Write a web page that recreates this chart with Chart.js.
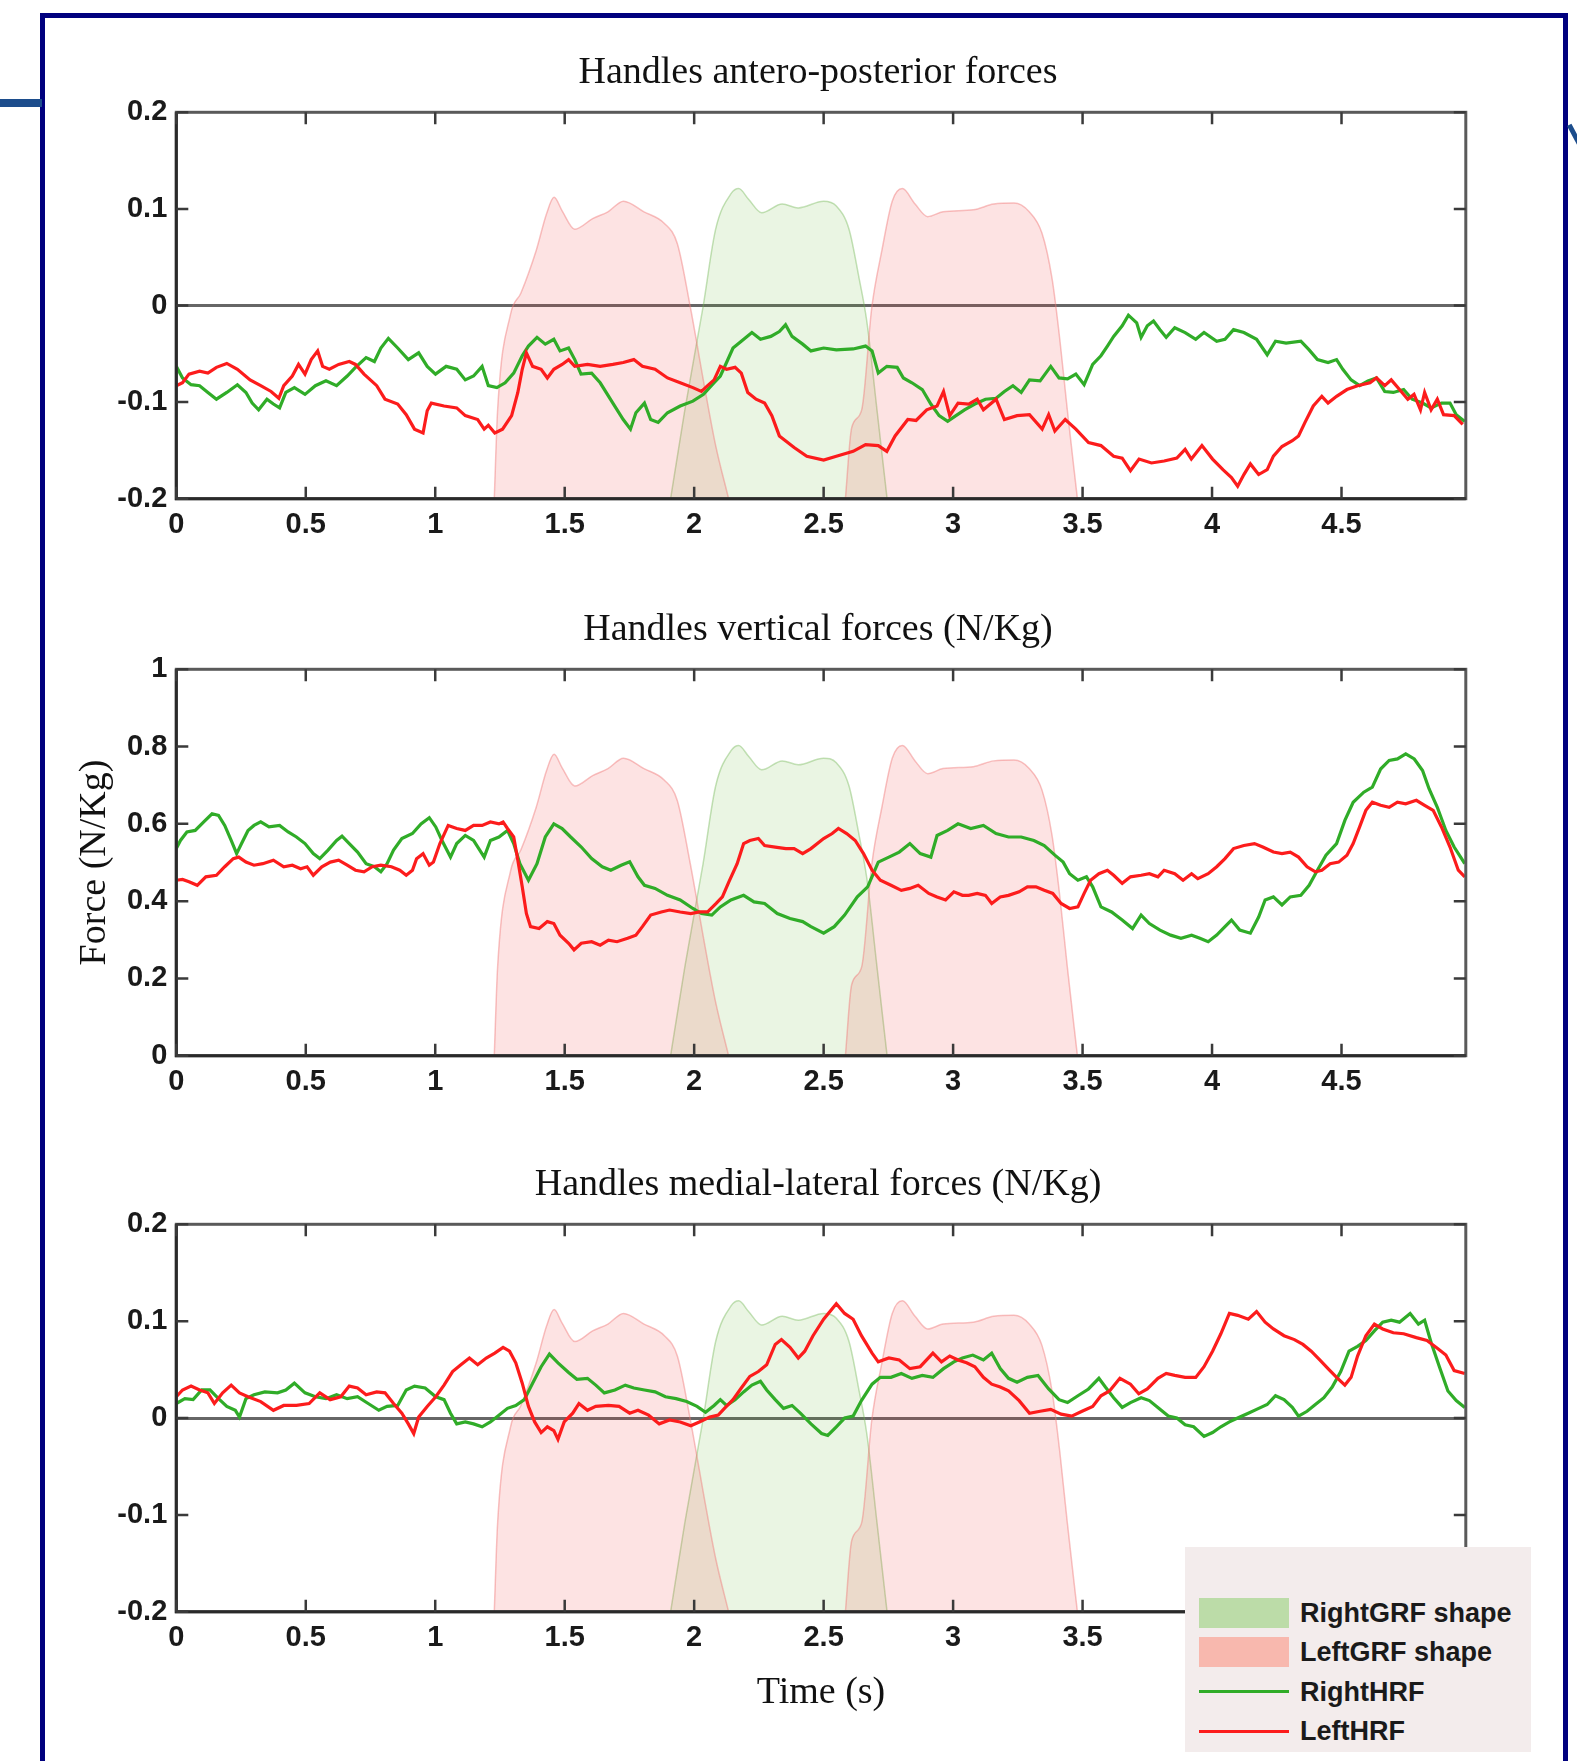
<!DOCTYPE html>
<html>
<head>
<meta charset="utf-8">
<title>Handles forces</title>
<script src="https://cdn.jsdelivr.net/npm/chart.js@4.4.1/dist/chart.umd.min.js"></script>
<style>
    html, body { margin: 0; padding: 0; background: #fff; width: 1577px; height: 1761px; overflow: hidden; position: relative; }
    canvas { position: absolute; }
    .frame { position: absolute; left: 40px; top: 13px; width: 1528px; height: 1800px; box-sizing: border-box; border: 5px solid #00007e; border-bottom: none; }
    .stub { position: absolute; left: 0; top: 99px; width: 42px; height: 8px; background: #1c4d8c; }
    .slash { position: absolute; left: 1567px; top: 126px; width: 5px; height: 34px; background: #1c4d8c; transform: rotate(-28deg); transform-origin: top left; }
    #legend { position: absolute; left: 1185px; top: 1547px; width: 346px; height: 205px; background: #f3ecec; font-family: "Liberation Sans", Arial, Helvetica, sans-serif; font-size: 27px; font-weight: bold; color: #1a1a1a; }
    #legend .item { position: absolute; left: 0; width: 346px; height: 36px; line-height: 36px; }
    #legend .sw { position: absolute; left: 14px; width: 90px; }
    #legend .txt { position: absolute; left: 115px; top: 0; white-space: nowrap; }
</style>
</head>
<body>
<div class="frame"></div>
<div class="stub"></div>
<div class="slash"></div>
<canvas id="apChart" width="1524" height="520" style="left:56px; top:30px;"></canvas>
<canvas id="vtChart" width="1524" height="520" style="left:56px; top:587px;"></canvas>
<canvas id="mlChart" width="1524" height="619" style="left:56px; top:1142px;"></canvas>
<div id="legend"></div>

<script>
// time axis
var xMax = 4.98;
var xTicks = [0, 0.5, 1, 1.5, 2, 2.5, 3, 3.5, 4, 4.5];
var apYTicks = [-0.2, -0.1, 0, 0.1, 0.2];
var vtYTicks = [0, 0.2, 0.4, 0.6, 0.8, 1];
var mlYTicks = [-0.2, -0.1, 0, 0.1, 0.2];

var seriesNames = ['RightGRF shape', 'LeftGRF shape', 'RightHRF', 'LeftHRF'];

// GRF shapes, [time, value] (same shape in the antero-posterior and medial-lateral plots)
var grfRight = [[1.909,-0.2],[1.964,-0.108],[2.034,-0.002],[2.083,0.079],[2.143,0.116],[2.172,0.121],[2.21,0.11],[2.261,0.096],[2.34,0.105],[2.402,0.101],[2.5,0.108],[2.549,0.103],[2.598,0.079],[2.637,0.028],[2.667,-0.017],[2.706,-0.108],[2.745,-0.2]];
var grfLeftA = [[1.228,-0.2],[1.241,-0.108],[1.291,-0.009],[1.331,0.013],[1.39,0.057],[1.43,0.095],[1.459,0.112],[1.49,0.098],[1.539,0.079],[1.608,0.09],[1.667,0.097],[1.727,0.108],[1.806,0.097],[1.885,0.085],[1.935,0.064],[1.984,0],[2.044,-0.09],[2.083,-0.145],[2.133,-0.2]];
var grfLeftB = [[2.584,-0.2],[2.608,-0.127],[2.647,-0.108],[2.686,-0.002],[2.725,0.057],[2.765,0.108],[2.804,0.121],[2.853,0.105],[2.902,0.092],[2.961,0.097],[3.078,0.099],[3.157,0.105],[3.235,0.106],[3.294,0.097],[3.343,0.075],[3.382,0.028],[3.412,-0.035],[3.441,-0.108],[3.48,-0.2]];

// GRF shapes as drawn in the vertical plot (0..1 axis)
var vtGrfRight = [[1.909,0],[1.964,0.23],[2.034,0.495],[2.083,0.698],[2.143,0.79],[2.172,0.803],[2.21,0.775],[2.261,0.74],[2.34,0.763],[2.402,0.753],[2.5,0.77],[2.549,0.758],[2.598,0.698],[2.637,0.57],[2.667,0.458],[2.706,0.23],[2.745,0]];
var vtGrfLeftA = [[1.228,0],[1.241,0.23],[1.291,0.478],[1.331,0.533],[1.39,0.643],[1.43,0.738],[1.459,0.78],[1.49,0.745],[1.539,0.698],[1.608,0.725],[1.667,0.743],[1.727,0.77],[1.806,0.743],[1.885,0.713],[1.935,0.66],[1.984,0.5],[2.044,0.275],[2.083,0.138],[2.133,0]];
var vtGrfLeftB = [[2.584,0],[2.608,0.183],[2.647,0.23],[2.686,0.495],[2.725,0.643],[2.765,0.77],[2.804,0.803],[2.853,0.763],[2.902,0.73],[2.961,0.743],[3.078,0.748],[3.157,0.763],[3.235,0.765],[3.294,0.743],[3.343,0.688],[3.382,0.57],[3.412,0.413],[3.441,0.23],[3.48,0]];

// handle reaction forces, antero-posterior
var apLeftHrf = [[0,-0.083],[0.024,-0.08],[0.049,-0.071],[0.09,-0.068],[0.122,-0.07],[0.155,-0.064],[0.195,-0.06],[0.236,-0.066],[0.285,-0.077],[0.326,-0.083],[0.366,-0.089],[0.396,-0.096],[0.415,-0.083],[0.448,-0.073],[0.472,-0.061],[0.497,-0.071],[0.521,-0.056],[0.546,-0.047],[0.565,-0.063],[0.591,-0.066],[0.627,-0.061],[0.668,-0.058],[0.692,-0.061],[0.725,-0.071],[0.774,-0.083],[0.806,-0.097],[0.855,-0.102],[0.888,-0.113],[0.92,-0.128],[0.953,-0.132],[0.969,-0.109],[0.985,-0.101],[1.034,-0.104],[1.083,-0.106],[1.116,-0.114],[1.164,-0.118],[1.189,-0.128],[1.205,-0.124],[1.23,-0.132],[1.26,-0.128],[1.295,-0.114],[1.319,-0.09],[1.336,-0.066],[1.352,-0.049],[1.376,-0.063],[1.409,-0.066],[1.433,-0.075],[1.458,-0.066],[1.49,-0.061],[1.515,-0.056],[1.539,-0.063],[1.588,-0.061],[1.637,-0.063],[1.686,-0.061],[1.726,-0.059],[1.767,-0.056],[1.8,-0.063],[1.849,-0.066],[1.897,-0.075],[1.946,-0.08],[1.995,-0.085],[2.028,-0.089],[2.052,-0.083],[2.077,-0.077],[2.101,-0.063],[2.125,-0.066],[2.158,-0.064],[2.182,-0.07],[2.207,-0.09],[2.239,-0.097],[2.272,-0.101],[2.3,-0.114],[2.329,-0.135],[2.386,-0.147],[2.435,-0.156],[2.5,-0.16],[2.549,-0.156],[2.614,-0.151],[2.662,-0.144],[2.711,-0.145],[2.744,-0.151],[2.776,-0.135],[2.825,-0.118],[2.857,-0.119],[2.898,-0.108],[2.938,-0.104],[2.963,-0.089],[2.987,-0.114],[3.019,-0.101],[3.06,-0.102],[3.093,-0.097],[3.117,-0.108],[3.166,-0.097],[3.198,-0.118],[3.247,-0.114],[3.295,-0.113],[3.344,-0.128],[3.369,-0.113],[3.393,-0.13],[3.433,-0.118],[3.474,-0.128],[3.523,-0.142],[3.571,-0.145],[3.62,-0.156],[3.653,-0.158],[3.685,-0.171],[3.718,-0.159],[3.766,-0.163],[3.815,-0.161],[3.864,-0.158],[3.896,-0.149],[3.92,-0.159],[3.961,-0.145],[4.002,-0.159],[4.042,-0.17],[4.075,-0.178],[4.099,-0.187],[4.123,-0.175],[4.148,-0.164],[4.18,-0.175],[4.213,-0.17],[4.237,-0.156],[4.27,-0.146],[4.31,-0.14],[4.334,-0.135],[4.359,-0.121],[4.391,-0.104],[4.424,-0.094],[4.448,-0.101],[4.481,-0.094],[4.521,-0.087],[4.562,-0.083],[4.61,-0.08],[4.635,-0.075],[4.667,-0.083],[4.692,-0.077],[4.724,-0.087],[4.756,-0.097],[4.78,-0.092],[4.805,-0.108],[4.821,-0.09],[4.846,-0.108],[4.87,-0.097],[4.894,-0.113],[4.935,-0.114],[4.968,-0.123]];
var apRightHrf = [[0,-0.063],[0.024,-0.075],[0.057,-0.082],[0.09,-0.083],[0.122,-0.09],[0.155,-0.097],[0.195,-0.09],[0.236,-0.082],[0.269,-0.09],[0.293,-0.101],[0.318,-0.108],[0.35,-0.097],[0.375,-0.102],[0.399,-0.106],[0.423,-0.09],[0.456,-0.085],[0.497,-0.092],[0.537,-0.083],[0.578,-0.078],[0.619,-0.083],[0.66,-0.073],[0.692,-0.064],[0.733,-0.054],[0.765,-0.058],[0.79,-0.044],[0.819,-0.034],[0.855,-0.044],[0.896,-0.056],[0.936,-0.049],[0.969,-0.063],[1.001,-0.071],[1.042,-0.063],[1.083,-0.066],[1.116,-0.077],[1.148,-0.073],[1.181,-0.063],[1.205,-0.083],[1.238,-0.085],[1.27,-0.08],[1.303,-0.07],[1.336,-0.052],[1.36,-0.042],[1.393,-0.033],[1.425,-0.04],[1.458,-0.035],[1.482,-0.047],[1.515,-0.044],[1.539,-0.056],[1.563,-0.071],[1.604,-0.07],[1.637,-0.08],[1.686,-0.101],[1.726,-0.118],[1.754,-0.128],[1.775,-0.111],[1.808,-0.101],[1.832,-0.118],[1.861,-0.121],[1.897,-0.111],[1.946,-0.104],[1.995,-0.099],[2.036,-0.092],[2.077,-0.08],[2.101,-0.073],[2.125,-0.059],[2.15,-0.044],[2.182,-0.037],[2.223,-0.028],[2.256,-0.035],[2.296,-0.032],[2.329,-0.027],[2.353,-0.02],[2.378,-0.032],[2.419,-0.04],[2.451,-0.047],[2.5,-0.044],[2.549,-0.046],[2.614,-0.045],[2.662,-0.042],[2.687,-0.047],[2.711,-0.07],[2.744,-0.063],[2.784,-0.064],[2.808,-0.075],[2.841,-0.08],[2.881,-0.087],[2.914,-0.102],[2.946,-0.114],[2.979,-0.12],[3.011,-0.114],[3.044,-0.108],[3.084,-0.102],[3.125,-0.097],[3.166,-0.096],[3.198,-0.089],[3.231,-0.083],[3.263,-0.09],[3.295,-0.077],[3.336,-0.078],[3.377,-0.063],[3.409,-0.075],[3.442,-0.076],[3.474,-0.071],[3.506,-0.082],[3.539,-0.061],[3.571,-0.052],[3.596,-0.042],[3.62,-0.032],[3.653,-0.021],[3.677,-0.01],[3.709,-0.018],[3.726,-0.033],[3.75,-0.021],[3.774,-0.016],[3.799,-0.025],[3.823,-0.033],[3.856,-0.023],[3.896,-0.028],[3.937,-0.035],[3.969,-0.028],[4.018,-0.037],[4.05,-0.035],[4.083,-0.025],[4.123,-0.028],[4.172,-0.035],[4.213,-0.051],[4.245,-0.037],[4.286,-0.039],[4.343,-0.037],[4.375,-0.046],[4.407,-0.056],[4.448,-0.059],[4.481,-0.056],[4.505,-0.066],[4.537,-0.077],[4.57,-0.083],[4.602,-0.078],[4.635,-0.075],[4.667,-0.089],[4.7,-0.09],[4.74,-0.087],[4.773,-0.097],[4.813,-0.101],[4.846,-0.106],[4.886,-0.101],[4.919,-0.101],[4.943,-0.113],[4.976,-0.12]];

// vertical
var vtLeftHrf = [[0,0.454],[0.024,0.456],[0.049,0.45],[0.081,0.441],[0.114,0.463],[0.155,0.467],[0.187,0.489],[0.22,0.51],[0.241,0.514],[0.269,0.501],[0.3,0.493],[0.334,0.497],[0.375,0.506],[0.415,0.489],[0.448,0.493],[0.48,0.484],[0.505,0.489],[0.529,0.467],[0.562,0.489],[0.595,0.501],[0.627,0.506],[0.66,0.493],[0.692,0.48],[0.725,0.476],[0.757,0.489],[0.79,0.493],[0.831,0.489],[0.863,0.48],[0.888,0.467],[0.912,0.48],[0.928,0.51],[0.953,0.523],[0.977,0.493],[0.993,0.501],[1.018,0.549],[1.05,0.596],[1.083,0.588],[1.116,0.583],[1.148,0.596],[1.181,0.596],[1.213,0.605],[1.246,0.6],[1.262,0.605],[1.279,0.588],[1.303,0.566],[1.319,0.506],[1.336,0.437],[1.352,0.368],[1.368,0.334],[1.401,0.329],[1.433,0.347],[1.458,0.342],[1.482,0.312],[1.515,0.291],[1.536,0.274],[1.564,0.291],[1.604,0.295],[1.637,0.286],[1.669,0.299],[1.702,0.295],[1.743,0.304],[1.775,0.312],[1.8,0.334],[1.832,0.364],[1.873,0.372],[1.905,0.377],[1.946,0.372],[1.987,0.368],[2.02,0.372],[2.052,0.372],[2.085,0.394],[2.109,0.411],[2.134,0.45],[2.166,0.497],[2.191,0.549],[2.215,0.557],[2.248,0.562],[2.272,0.544],[2.313,0.54],[2.354,0.536],[2.386,0.536],[2.419,0.523],[2.451,0.536],[2.5,0.562],[2.533,0.575],[2.557,0.588],[2.589,0.575],[2.622,0.557],[2.654,0.523],[2.687,0.48],[2.719,0.454],[2.76,0.441],[2.8,0.428],[2.833,0.433],[2.865,0.441],[2.906,0.42],[2.938,0.411],[2.971,0.403],[3.003,0.424],[3.036,0.415],[3.06,0.415],[3.093,0.42],[3.125,0.415],[3.149,0.394],[3.182,0.411],[3.214,0.415],[3.255,0.424],[3.287,0.437],[3.32,0.437],[3.352,0.428],[3.385,0.42],[3.417,0.394],[3.45,0.381],[3.482,0.385],[3.506,0.42],[3.531,0.454],[3.563,0.471],[3.596,0.48],[3.62,0.467],[3.653,0.446],[3.685,0.463],[3.726,0.467],[3.758,0.471],[3.791,0.463],[3.815,0.48],[3.856,0.471],[3.888,0.454],[3.921,0.471],[3.945,0.458],[3.985,0.471],[4.018,0.489],[4.05,0.51],[4.083,0.536],[4.123,0.544],[4.164,0.549],[4.196,0.54],[4.237,0.527],[4.27,0.523],[4.302,0.527],[4.334,0.514],[4.367,0.489],[4.399,0.476],[4.424,0.48],[4.456,0.497],[4.489,0.501],[4.521,0.519],[4.545,0.549],[4.57,0.592],[4.594,0.635],[4.619,0.656],[4.651,0.648],[4.684,0.643],[4.716,0.656],[4.748,0.652],[4.789,0.661],[4.821,0.648],[4.854,0.635],[4.886,0.592],[4.919,0.54],[4.951,0.48],[4.976,0.463]];
var vtRightHrf = [[0,0.536],[0.016,0.557],[0.041,0.579],[0.073,0.583],[0.106,0.605],[0.138,0.626],[0.163,0.622],[0.187,0.596],[0.212,0.557],[0.233,0.523],[0.252,0.549],[0.277,0.583],[0.3,0.596],[0.326,0.605],[0.358,0.592],[0.399,0.596],[0.432,0.579],[0.464,0.566],[0.497,0.549],[0.529,0.523],[0.554,0.51],[0.586,0.532],[0.619,0.557],[0.64,0.568],[0.668,0.549],[0.7,0.527],[0.733,0.497],[0.765,0.489],[0.79,0.476],[0.814,0.497],[0.839,0.532],[0.871,0.562],[0.912,0.575],[0.945,0.6],[0.977,0.616],[1.002,0.592],[1.026,0.557],[1.059,0.514],[1.083,0.549],[1.116,0.57],[1.148,0.557],[1.189,0.514],[1.213,0.557],[1.246,0.566],[1.279,0.583],[1.303,0.549],[1.327,0.497],[1.36,0.454],[1.393,0.497],[1.425,0.566],[1.458,0.6],[1.49,0.588],[1.523,0.566],[1.564,0.54],[1.604,0.51],[1.645,0.489],[1.678,0.48],[1.718,0.493],[1.751,0.502],[1.783,0.463],[1.808,0.441],[1.849,0.433],[1.897,0.415],[1.946,0.403],[1.995,0.381],[2.028,0.368],[2.068,0.364],[2.101,0.385],[2.142,0.403],[2.191,0.415],[2.231,0.398],[2.272,0.394],[2.321,0.368],[2.37,0.355],[2.419,0.347],[2.451,0.334],[2.5,0.317],[2.541,0.334],[2.581,0.364],[2.63,0.411],[2.67,0.437],[2.711,0.501],[2.752,0.514],[2.792,0.527],[2.833,0.549],[2.873,0.523],[2.914,0.514],[2.938,0.57],[2.979,0.583],[3.019,0.6],[3.068,0.588],[3.117,0.596],[3.166,0.575],[3.214,0.566],[3.263,0.566],[3.312,0.557],[3.352,0.544],[3.393,0.519],[3.425,0.501],[3.45,0.471],[3.482,0.454],[3.515,0.463],[3.539,0.437],[3.571,0.385],[3.612,0.372],[3.653,0.351],[3.693,0.329],[3.726,0.364],[3.758,0.342],[3.799,0.325],[3.84,0.312],[3.88,0.304],[3.921,0.312],[3.953,0.304],[3.985,0.295],[4.018,0.312],[4.05,0.334],[4.075,0.351],[4.107,0.325],[4.148,0.317],[4.18,0.359],[4.205,0.403],[4.237,0.411],[4.27,0.39],[4.302,0.411],[4.343,0.415],[4.375,0.441],[4.407,0.48],[4.44,0.519],[4.481,0.549],[4.513,0.609],[4.545,0.656],[4.586,0.682],[4.619,0.695],[4.651,0.742],[4.684,0.764],[4.716,0.768],[4.748,0.781],[4.781,0.768],[4.813,0.738],[4.838,0.691],[4.87,0.643],[4.903,0.583],[4.935,0.54],[4.976,0.497]];

// medial-lateral
var mlLeftHrf = [[0,0.022],[0.024,0.029],[0.057,0.033],[0.09,0.029],[0.122,0.026],[0.147,0.015],[0.179,0.026],[0.212,0.034],[0.244,0.026],[0.277,0.022],[0.326,0.017],[0.375,0.008],[0.415,0.013],[0.464,0.013],[0.513,0.015],[0.554,0.026],[0.594,0.019],[0.635,0.022],[0.668,0.033],[0.7,0.031],[0.733,0.024],[0.774,0.027],[0.806,0.026],[0.839,0.015],[0.871,0.005],[0.896,-0.006],[0.917,-0.016],[0.936,0.001],[0.969,0.012],[1.002,0.022],[1.034,0.034],[1.067,0.048],[1.099,0.055],[1.132,0.062],[1.164,0.055],[1.197,0.062],[1.23,0.067],[1.262,0.073],[1.287,0.069],[1.311,0.057],[1.336,0.036],[1.36,0.012],[1.384,-0.004],[1.409,-0.015],[1.433,-0.009],[1.458,-0.013],[1.474,-0.022],[1.498,-0.004],[1.531,0.005],[1.555,0.015],[1.588,0.008],[1.62,0.012],[1.669,0.013],[1.71,0.012],[1.751,0.005],[1.783,0.008],[1.824,0.003],[1.865,-0.006],[1.905,-0.002],[1.946,-0.004],[1.987,-0.008],[2.02,-0.004],[2.06,0.001],[2.093,0.003],[2.117,0.01],[2.15,0.019],[2.182,0.031],[2.215,0.043],[2.248,0.048],[2.28,0.055],[2.313,0.076],[2.337,0.081],[2.37,0.073],[2.402,0.062],[2.427,0.069],[2.459,0.085],[2.5,0.102],[2.549,0.118],[2.581,0.108],[2.614,0.102],[2.646,0.085],[2.687,0.067],[2.711,0.058],[2.752,0.062],[2.792,0.06],[2.833,0.051],[2.873,0.053],[2.922,0.067],[2.955,0.058],[2.987,0.064],[3.019,0.06],[3.052,0.057],[3.084,0.053],[3.117,0.042],[3.149,0.035],[3.182,0.032],[3.214,0.028],[3.255,0.018],[3.295,0.005],[3.336,0.007],[3.377,0.009],[3.417,0.004],[3.458,0.002],[3.498,0.007],[3.539,0.012],[3.571,0.023],[3.604,0.028],[3.644,0.041],[3.685,0.035],[3.717,0.025],[3.75,0.03],[3.791,0.041],[3.823,0.046],[3.856,0.044],[3.896,0.042],[3.937,0.042],[3.969,0.053],[4.002,0.069],[4.034,0.087],[4.067,0.108],[4.099,0.106],[4.14,0.102],[4.172,0.11],[4.205,0.099],[4.237,0.092],[4.278,0.085],[4.318,0.081],[4.351,0.076],[4.383,0.069],[4.416,0.06],[4.448,0.051],[4.481,0.042],[4.513,0.034],[4.537,0.042],[4.562,0.064],[4.594,0.085],[4.627,0.097],[4.659,0.092],[4.7,0.088],[4.74,0.087],[4.789,0.083],[4.83,0.08],[4.87,0.072],[4.903,0.065],[4.935,0.049],[4.976,0.046]];
var mlRightHrf = [[0,0.015],[0.033,0.02],[0.065,0.019],[0.098,0.029],[0.13,0.029],[0.163,0.02],[0.195,0.012],[0.228,0.008],[0.244,0.001],[0.269,0.02],[0.3,0.024],[0.342,0.027],[0.391,0.026],[0.423,0.029],[0.456,0.036],[0.497,0.026],[0.537,0.022],[0.578,0.02],[0.619,0.024],[0.66,0.02],[0.7,0.022],[0.741,0.015],[0.782,0.008],[0.814,0.012],[0.855,0.013],[0.888,0.029],[0.92,0.033],[0.961,0.031],[1.002,0.022],[1.034,0.019],[1.059,0.005],[1.083,-0.006],[1.116,-0.004],[1.148,-0.006],[1.181,-0.009],[1.213,-0.004],[1.246,0.003],[1.279,0.01],[1.311,0.013],[1.344,0.019],[1.376,0.036],[1.409,0.053],[1.441,0.066],[1.474,0.057],[1.515,0.047],[1.547,0.04],[1.588,0.041],[1.62,0.034],[1.653,0.026],[1.694,0.029],[1.734,0.034],[1.767,0.031],[1.808,0.029],[1.849,0.027],[1.889,0.022],[1.93,0.02],[1.971,0.017],[2.011,0.012],[2.044,0.006],[2.077,0.013],[2.101,0.019],[2.125,0.013],[2.158,0.019],[2.191,0.027],[2.223,0.034],[2.256,0.038],[2.28,0.029],[2.313,0.019],[2.345,0.01],[2.378,0.013],[2.41,0.005],[2.451,-0.006],[2.492,-0.016],[2.516,-0.018],[2.549,-0.009],[2.581,0],[2.614,0.002],[2.646,0.018],[2.687,0.035],[2.719,0.042],[2.76,0.042],[2.8,0.046],[2.841,0.041],[2.881,0.044],[2.922,0.042],[2.963,0.051],[3.003,0.058],[3.036,0.062],[3.076,0.065],[3.117,0.06],[3.149,0.067],[3.182,0.051],[3.214,0.041],[3.247,0.037],[3.287,0.042],[3.328,0.044],[3.369,0.03],[3.409,0.019],[3.442,0.016],[3.482,0.023],[3.523,0.03],[3.563,0.041],[3.588,0.032],[3.62,0.021],[3.653,0.011],[3.685,0.016],[3.726,0.021],[3.758,0.018],[3.799,0.009],[3.831,0.002],[3.864,0],[3.896,-0.007],[3.929,-0.009],[3.969,-0.019],[4.002,-0.015],[4.034,-0.009],[4.067,-0.004],[4.099,0],[4.14,0.005],[4.172,0.009],[4.213,0.014],[4.245,0.023],[4.278,0.019],[4.31,0.011],[4.334,0.002],[4.367,0.007],[4.399,0.014],[4.432,0.021],[4.464,0.032],[4.497,0.048],[4.529,0.069],[4.562,0.074],[4.594,0.08],[4.627,0.09],[4.659,0.099],[4.692,0.101],[4.724,0.099],[4.765,0.108],[4.797,0.097],[4.821,0.101],[4.846,0.078],[4.878,0.053],[4.911,0.028],[4.943,0.018],[4.976,0.011]];

var RED = 'rgb(252,28,28)';
var GREEN = 'rgb(48,172,40)';
var PINK_FILL = 'rgba(240,60,60,0.14)';
var PINK_LINE = 'rgba(240,120,120,0.45)';
var GREEN_FILL = 'rgba(90,180,40,0.13)';
var GREEN_LINE = 'rgba(110,180,80,0.4)';
var tickFont = { family: '"Liberation Sans", Arial, Helvetica, sans-serif', size: 29, weight: 'bold' };
var serifFont = { family: '"Liberation Serif", "Times New Roman", serif', size: 38, weight: 'normal' };

function xy(pts) {
    return pts.map(function (p) { return { x: p[0], y: p[1] }; });
}

// box round the plot, with inward ticks on all four sides
var framePlugin = {
    id: 'frame',
    afterDatasetsDraw: function (chart) {
        var ctx = chart.ctx, a = chart.chartArea, sx = chart.scales.x, sy = chart.scales.y;
        ctx.save();
        ctx.lineWidth = 3;
        ctx.strokeStyle = '#5a5a5a';
        ctx.strokeRect(a.left, a.top, a.right - a.left, a.bottom - a.top);
        // left and bottom axes a little darker
        ctx.strokeStyle = '#2a2a2a';
        ctx.beginPath();
        ctx.moveTo(a.left, a.top); ctx.lineTo(a.left, a.bottom); ctx.lineTo(a.right, a.bottom);
        ctx.stroke();
        ctx.lineWidth = 2.5;
        ctx.strokeStyle = '#3a3a3a';
        ctx.beginPath();
        sx.ticks.forEach(function (t) {
            var px = sx.getPixelForValue(t.value);
            ctx.moveTo(px, a.bottom); ctx.lineTo(px, a.bottom - 12);
            ctx.moveTo(px, a.top); ctx.lineTo(px, a.top + 12);
        });
        sy.ticks.forEach(function (t) {
            var py = sy.getPixelForValue(t.value);
            ctx.moveTo(a.left, py); ctx.lineTo(a.left + 12, py);
            ctx.moveTo(a.right, py); ctx.lineTo(a.right - 12, py);
        });
        ctx.stroke();
        ctx.restore();
    }
};

function makeChart(id, cfg) {
    var datasets = [
        { data: xy(cfg.left), borderColor: RED, borderWidth: 3.2, pointRadius: 0, fill: false, tension: 0, order: 0 },
        { data: xy(cfg.right), borderColor: GREEN, borderWidth: 3.2, pointRadius: 0, fill: false, tension: 0, order: 1 },
        { data: xy(cfg.grfLeftA), borderColor: PINK_LINE, borderWidth: 1.5, backgroundColor: PINK_FILL, fill: 'start', pointRadius: 0, cubicInterpolationMode: 'monotone', order: 2 },
        { data: xy(cfg.grfLeftB), borderColor: PINK_LINE, borderWidth: 1.5, backgroundColor: PINK_FILL, fill: 'start', pointRadius: 0, cubicInterpolationMode: 'monotone', order: 2 },
        { data: xy(cfg.grfRight), borderColor: GREEN_LINE, borderWidth: 1.5, backgroundColor: GREEN_FILL, fill: 'start', pointRadius: 0, cubicInterpolationMode: 'monotone', order: 3 }
    ];

    return new Chart(document.getElementById(id), {
        type: 'line',
        data: { datasets: datasets },
        options: {
            responsive: false, animation: false, events: [],
            layout: { padding: 0 },
            plugins: {
                legend: { display: false },
                tooltip: { enabled: false },
                title: { display: true, text: cfg.title, font: serifFont, color: '#111', padding: { top: 20, bottom: 16.7 } }
            },
            scales: {
                x: {
                    type: 'linear', min: 0, max: xMax,
                    grid: { display: false, drawTicks: false },
                    border: { display: false },
                    ticks: { font: tickFont, color: '#1a1a1a', padding: 9, maxRotation: 0, autoSkip: false,
                        callback: function (v) { return String(v); } },
                    title: cfg.xTitle ? { display: true, text: cfg.xTitle, font: serifFont, color: '#111', padding: { top: 0, bottom: 45.5 } } : { display: false },
                    afterBuildTicks: function (s) { s.ticks = xTicks.map(function (v) { return { value: v }; }); },
                    afterFit: function (s) { s.height = cfg.xHeight; }
                },
                y: {
                    type: 'linear', min: cfg.yTicks[0], max: cfg.yTicks[cfg.yTicks.length - 1],
                    grid: {
                        drawTicks: false,
                        color: function (c) { return (cfg.zeroLine && c.tick && c.tick.value === 0) ? '#666666' : 'rgba(0,0,0,0)'; },
                        lineWidth: 3
                    },
                    border: { display: false },
                    ticks: { font: tickFont, color: '#1a1a1a', padding: 9,
                        callback: function (v) { return String(v); } },
                    title: cfg.yTitle ? { display: true, text: cfg.yTitle, font: serifFont, color: '#111', padding: { top: 16.7, bottom: 0 } } : { display: false },
                    afterBuildTicks: function (s) { s.ticks = cfg.yTicks.map(function (v) { return { value: v }; }); },
                    afterFit: function (s) { s.width = 120.3; }
                },
                yRight: {
                    position: 'right', display: true,
                    grid: { display: false }, border: { display: false }, ticks: { display: false },
                    afterFit: function (s) { s.width = 114.2; }
                }
            }
        },
        plugins: [framePlugin]
    });
}

makeChart('apChart', {
    title: 'Handles antero-posterior forces', yTicks: apYTicks, zeroLine: true, xHeight: 51.3,
    left: apLeftHrf, right: apRightHrf, grfLeftA: grfLeftA, grfLeftB: grfLeftB, grfRight: grfRight
});
makeChart('vtChart', {
    title: 'Handles vertical forces (N/Kg)', yTicks: vtYTicks, zeroLine: false, xHeight: 51.3, yTitle: 'Force (N/Kg)',
    left: vtLeftHrf, right: vtRightHrf, grfLeftA: vtGrfLeftA, grfLeftB: vtGrfLeftB, grfRight: vtGrfRight
});
makeChart('mlChart', {
    title: 'Handles medial-lateral forces (N/Kg)', yTicks: mlYTicks, zeroLine: true, xHeight: 149.2, xTitle: 'Time (s)',
    left: mlLeftHrf, right: mlRightHrf, grfLeftA: grfLeftA, grfLeftB: grfLeftB, grfRight: grfRight
});

// legend box in the lower right corner
var legendStyles = [
    { kind: 'box', color: '#bcdca8' },
    { kind: 'box', color: '#f8b8ae' },
    { kind: 'line', color: GREEN },
    { kind: 'line', color: RED }
];
var legendTops = [48, 87, 126.5, 166];
var legendEl = document.getElementById('legend');
seriesNames.forEach(function (name, i) {
    var st = legendStyles[i];
    var item = document.createElement('div');
    item.className = 'item';
    item.style.top = legendTops[i] + 'px';
    var sw = document.createElement('span');
    sw.className = 'sw';
    sw.style.background = st.color;
    if (st.kind === 'box') { sw.style.top = '3px'; sw.style.height = '30px'; }
    else { sw.style.top = '16.5px'; sw.style.height = '3px'; }
    var txt = document.createElement('span');
    txt.className = 'txt';
    txt.textContent = name;
    item.appendChild(sw);
    item.appendChild(txt);
    legendEl.appendChild(item);
});
</script>
</body>
</html>
